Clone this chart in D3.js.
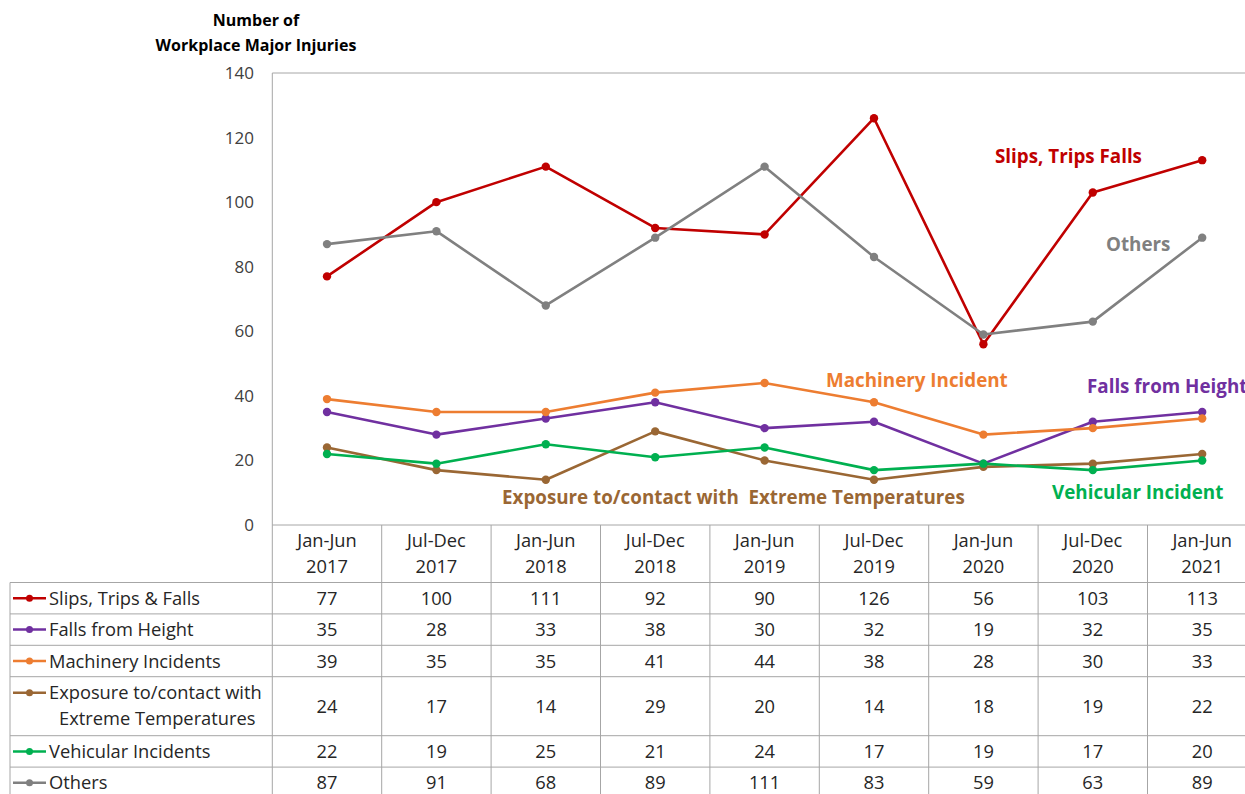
<!DOCTYPE html>
<html>
<head>
<meta charset="utf-8">
<script src="https://cdn.jsdelivr.net/npm/d3@7"></script>
<style>
  body { margin: 0; background: #fff; }
  text { font-family: "Open Sans", "Noto Sans", sans-serif; white-space: pre; }
</style>
</head>
<body>
<svg id="chart" width="1245" height="794"></svg>
<script>
// periods along the x axis (two-line labels)
var periods = ["Jan-Jun 2017", "Jul-Dec 2017", "Jan-Jun 2018", "Jul-Dec 2018", "Jan-Jun 2019",
               "Jul-Dec 2019", "Jan-Jun 2020", "Jul-Dec 2020", "Jan-Jun 2021"];

var slipsTrips = [77, 100, 111, 92, 90, 126, 56, 103, 113];
var fallsHeight = [35, 28, 33, 38, 30, 32, 19, 32, 35];
var machinery = [39, 35, 35, 41, 44, 38, 28, 30, 33];
var exposure = [24, 17, 14, 29, 20, 14, 18, 19, 22];
var vehicular = [22, 19, 25, 21, 24, 17, 19, 17, 20];
var others = [87, 91, 68, 89, 111, 83, 59, 63, 89];

var yTicks = [0, 20, 40, 60, 80, 100, 120, 140];

var series = [
  {name: ["Slips, Trips & Falls"], values: slipsTrips, color: "#C00000"},
  {name: ["Falls from Height"], values: fallsHeight, color: "#7030A0"},
  {name: ["Machinery Incidents"], values: machinery, color: "#ED7D31"},
  {name: ["Exposure to/contact with", "Extreme Temperatures"], values: exposure, color: "#9A6734"},
  {name: ["Vehicular Incidents"], values: vehicular, color: "#00B050"},
  {name: ["Others"], values: others, color: "#808080"}
];

// labels written on the plot
var callouts = [
  {text: "Slips, Trips Falls", color: "#C00000", x: 995, y: 163},
  {text: "Others", color: "#808080", x: 1106, y: 251},
  {text: "Machinery Incident", color: "#ED7D31", x: 826, y: 387},
  {text: "Falls from Height", color: "#7030A0", x: 1087, y: 393},
  {text: "Exposure to/contact with  Extreme Temperatures", color: "#9A6734", x: 502, y: 504},
  {text: "Vehicular Incident", color: "#00B050", x: 1052, y: 499}
];

var svg = d3.select("#chart");

var plotLeft = 272.3, colW = 109.4;
var plotTop = 73, plotBottom = 525;
var plotRight = plotLeft + colW * periods.length;

var x = d3.scaleBand()
    .domain(periods)
    .range([plotLeft, plotRight]);

var y = d3.scaleLinear()
    .domain([0, 140])
    .range([plotBottom, plotTop]);

var ink = "#262626";
var fs = 18.3;

// title
svg.append("text")
    .attr("x", 256).attr("y", 26)
    .attr("text-anchor", "middle")
    .attr("font-size", 16).attr("font-weight", "bold")
    .text("Number of");
svg.append("text")
    .attr("x", 256).attr("y", 51)
    .attr("text-anchor", "middle")
    .attr("font-size", 16).attr("font-weight", "bold")
    .text("Workplace Major Injuries");

// y axis labels
svg.selectAll(".ytick")
  .data(yTicks)
  .enter().append("text")
    .attr("class", "ytick")
    .attr("x", 254)
    .attr("y", function(d) { return y(d) + 6; })
    .attr("text-anchor", "end")
    .attr("font-size", 17)
    .attr("fill", "#404040")
    .text(function(d) { return d; });

// plot frame
var grid = "#A6A6A6";
svg.append("line").attr("x1", plotLeft).attr("x2", plotRight).attr("y1", plotTop).attr("y2", plotTop)
    .attr("stroke", grid);
svg.append("line").attr("x1", plotLeft).attr("x2", plotLeft).attr("y1", plotTop).attr("y2", 794)
    .attr("stroke", grid);
svg.append("line").attr("x1", plotLeft).attr("x2", plotRight).attr("y1", plotBottom).attr("y2", plotBottom)
    .attr("stroke", grid);

// table
var headerBottom = 582.5;
var rowH = 31.4;
var rowTops = [];
var t = headerBottom;
series.forEach(function(s) {
  rowTops.push(t);
  t += s.name.length > 1 ? 59 : rowH;
});
var tableBottom = t;

// column separators
periods.forEach(function(p) {
  svg.append("line")
    .attr("x1", x(p) + colW).attr("x2", x(p) + colW)
    .attr("y1", plotBottom).attr("y2", tableBottom)
    .attr("stroke", grid);
});
// row lines
rowTops.forEach(function(rt) {
  svg.append("line").attr("x1", 10).attr("x2", plotRight).attr("y1", rt).attr("y2", rt)
    .attr("stroke", grid);
});
svg.append("line").attr("x1", 10).attr("x2", 10).attr("y1", headerBottom).attr("y2", tableBottom)
    .attr("stroke", grid);

// header labels
periods.forEach(function(p) {
  var parts = p.split(" ");
  var cx = x(p) + colW / 2;
  svg.append("text").attr("x", cx).attr("y", 547)
    .attr("text-anchor", "middle").attr("font-size", fs).attr("fill", ink)
    .text(parts[0]);
  svg.append("text").attr("x", cx).attr("y", 573)
    .attr("text-anchor", "middle").attr("font-size", fs).attr("fill", ink)
    .text(parts[1]);
});

// rows: legend key + values
series.forEach(function(s, i) {
  var rt = rowTops[i];
  var h = s.name.length > 1 ? 59 : rowH;
  var cy = rt + h / 2;
  var firstY = s.name.length > 1 ? rt + 16 : cy;
  svg.append("line").attr("x1", 13).attr("x2", 46).attr("y1", firstY).attr("y2", firstY)
    .attr("stroke", s.color).attr("stroke-width", 2.5);
  svg.append("circle").attr("cx", 29.5).attr("cy", firstY).attr("r", 3.5).attr("fill", s.color);
  s.name.forEach(function(n, j) {
    svg.append("text")
      .attr("x", j === 0 ? 49 : 59)
      .attr("y", firstY + 6.5 + j * 26)
      .attr("font-size", fs).attr("fill", ink)
      .text(n);
  });
  svg.selectAll(null)
    .data(s.values)
    .enter().append("text")
      .attr("x", function(d, k) { return x(periods[k]) + colW / 2; })
      .attr("y", cy + 6.5)
      .attr("text-anchor", "middle")
      .attr("font-size", fs).attr("fill", ink)
      .text(function(d) { return d; });
});

// lines
var line = d3.line()
    .x(function(d, i) { return x(periods[i]) + colW / 2; })
    .y(function(d) { return y(d); });

series.forEach(function(s) {
  var g = svg.append("g");
  g.append("path")
    .datum(s.values)
    .attr("d", line)
    .attr("fill", "none")
    .attr("stroke", s.color)
    .attr("stroke-width", 2.6)
    .attr("stroke-linejoin", "round");
  g.selectAll("circle")
    .data(s.values)
    .enter().append("circle")
      .attr("cx", function(d, i) { return x(periods[i]) + colW / 2; })
      .attr("cy", function(d) { return y(d); })
      .attr("r", 4.2)
      .attr("fill", s.color);
});

// callouts
svg.selectAll(".callout")
  .data(callouts)
  .enter().append("text")
    .attr("class", "callout")
    .attr("x", function(d) { return d.x; })
    .attr("y", function(d) { return d.y; })
    .attr("font-size", 18.8)
    .attr("font-weight", "bold")
    .attr("fill", function(d) { return d.color; })
    .text(function(d) { return d.text; });
</script>
</body>
</html>
